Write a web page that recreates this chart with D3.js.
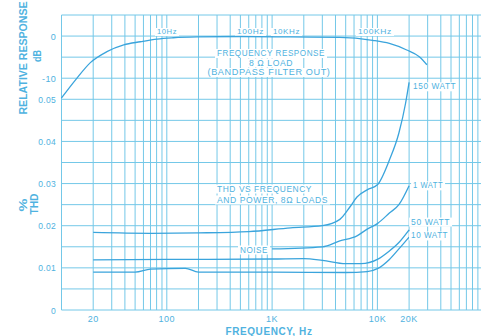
<!DOCTYPE html>
<html><head><meta charset="utf-8">
<script src="https://cdn.jsdelivr.net/npm/d3@7"></script>
<style>body{margin:0;background:#fff;overflow:hidden} svg{display:block}</style>
</head><body>
<script>
// ---- data ----
const freqTicks = [20, 100, 1000, 10000, 20000];
const freqTickLabels = ["20", "100", "1K", "10K", "20K"];
const dbTicks = [0, -10];
const dbTickLabels = ["0", "-10"];
const thdTicks = [0, 0.01, 0.02, 0.03, 0.04, 0.05];
const thdTickLabels = ["0", "0.01", "0.02", "0.03", "0.04", "0.05"];

const respFreq = [10, 13.6, 18.8, 27, 39, 56, 81, 115, 194, 500, 1500, 4400, 9000, 13000, 19000, 25000, 29500];
const respDb   = [-14.7, -10.4, -6.3, -3.7, -2.1, -1.35, -0.7, -0.4, -0.2, -0.1, -0.2, -0.3, -1.0, -1.75, -3.3, -4.9, -6.8];

const w150Freq = [20, 70, 200, 600, 1500, 3000, 4400, 5500, 6400, 8000, 10000, 13000, 16000, 18500, 20000];
const w150Thd  = [0.0184, 0.0182, 0.0183, 0.0186, 0.0195, 0.0200, 0.0215, 0.0245, 0.0268, 0.0285, 0.0297, 0.0356, 0.0420, 0.0490, 0.0540];

const w1Freq = [1000, 3000, 4400, 6400, 8000, 10000, 13000, 16000, 20000];
const w1Thd  = [0.0145, 0.0150, 0.0164, 0.0176, 0.0192, 0.0205, 0.0230, 0.0250, 0.0295];

const w50Freq = [20, 100, 1000, 2000, 3000, 5000, 7000, 10000, 13000, 16000, 20000];
const w50Thd  = [0.0119, 0.0120, 0.0121, 0.0122, 0.0118, 0.0110, 0.0110, 0.0120, 0.0140, 0.0160, 0.0190];

const w10Freq = [20, 50, 70, 150, 200, 1000, 5000, 8000, 10000, 13000, 16000, 20000];
const w10Thd  = [0.0090, 0.0090, 0.0097, 0.0099, 0.0090, 0.0090, 0.0089, 0.0091, 0.0098, 0.0120, 0.0145, 0.0173];

const seriesNames = ["150 WATT", "1 WATT", "50 WATT", "10 WATT"];

// ---- drawing ----
const W = 481, H = 336;
const gridCol = "#74c8e8", curveCol = "#3aa4dc", textCol = "#4fb2e0";
const svg = d3.select("body").append("svg").attr("width", W).attr("height", H);

const x = d3.scaleLog().domain([10, 100000]).range([61.5, 61.5 + 4 * 105.3]);
const yT = d3.scaleLinear().domain([0, 0.07]).range([310, 15]);
const yD = d3.scaleLinear().domain([-65, 5]).range([310, 15]);

// grid
const vLines = [];
[10, 100, 1000, 10000].forEach(d => { for (let m = 1; m <= 9; m++) vLines.push(m * d); });
vLines.push(100000);
svg.append("g").selectAll("line").data(vLines).join("line")
  .attr("x1", d => x(d)).attr("x2", d => x(d)).attr("y1", yT(0.07)).attr("y2", yT(0))
  .attr("stroke", gridCol).attr("stroke-width", 1);
const hLines = d3.range(0, 15).map(i => i * 0.005);
svg.append("g").selectAll("line").data(hLines).join("line")
  .attr("x1", x(10)).attr("x2", W + 5).attr("y1", d => yT(d)).attr("y2", d => yT(d))
  .attr("stroke", gridCol).attr("stroke-width", 1);

// helper for text with optional white background
function label(g, txt, px, py, opts = {}) {
  const gg = g.append("g");
  const t = gg.append("text").attr("x", px).attr("y", py).text(txt)
    .attr("fill", textCol).attr("font-family", "Liberation Sans, Arial, sans-serif")
    .attr("font-size", opts.size || 9).attr("text-anchor", opts.anchor || "start")
    .attr("letter-spacing", opts.ls || 0.6);
  if (opts.len) t.attr("textLength", opts.len).attr("lengthAdjust", "spacingAndGlyphs");
  if (opts.weight) t.attr("font-weight", opts.weight);
  if (opts.bg) {
    const b = t.node().getBBox();
    gg.insert("rect", "text").attr("x", b.x - 2).attr("y", b.y + 1).attr("width", b.width + 4).attr("height", b.height - 1)
      .attr("fill", "#fff");
  }
  return t;
}

// in-plot annotations
const annot = svg.append("g");
label(annot, "10Hz", 157, 34, {size: 8, len: 20, bg: true});
label(annot, "100Hz", 237, 34, {size: 8, len: 27, bg: true});
label(annot, "10KHz", 273, 34, {size: 8, len: 27, bg: true});
label(annot, "100KHz", 358, 34, {size: 8, len: 34, bg: true});
label(annot, "FREQUENCY RESPONSE", 271, 56, {size: 9, len: 108, anchor: "middle", bg: true});
label(annot, "8 Ω  LOAD", 271, 65.5, {size: 9, len: 44, anchor: "middle", bg: true});
label(annot, "(BANDPASS FILTER OUT)", 269, 75, {size: 9, len: 123, anchor: "middle", bg: true});
label(annot, "THD VS FREQUENCY", 217, 191.5, {size: 9, len: 95, bg: true});
label(annot, "AND POWER, 8Ω LOADS", 217, 202.5, {size: 9, len: 111, bg: true});
label(annot, "NOISE", 240, 252.5, {size: 9, len: 28, bg: true});

// curves
const line = d3.line().x(d => x(d[0])).curve(d3.curveMonotoneX);
const curves = svg.append("g").attr("fill", "none").attr("stroke", curveCol).attr("stroke-width", 1.3);
curves.append("path").attr("d", line.y(d => yD(d[1]))(d3.zip(respFreq, respDb)));
const thdSets = [[w150Freq, w150Thd], [w1Freq, w1Thd], [w50Freq, w50Thd], [w10Freq, w10Thd]];
thdSets.forEach(([f, v]) => curves.append("path").attr("d", line.y(d => yT(d[1]))(d3.zip(f, v))));

// right-side series labels (placed just right of 20 kHz, near each curve's end)
const lblShift = [-0.0008, 0.0002, 0.0021, 0.0005];
const lblX = [4, 4, 2, 2];
const lblLen = [43, 30, 39, 37];
thdSets.forEach(([f, v], i) => {
  const last = v[v.length - 1];
  label(svg, seriesNames[i], x(20000) + lblX[i], yT(last + lblShift[i]) + 3.5,
        {size: 9, len: lblLen[i], bg: true});
});

// axes tick labels
const ax = svg.append("g");
dbTicks.forEach((d, i) => label(ax, dbTickLabels[i], 56, yD(d) + 3.5, {size: 9, anchor: "end", ls: 0.3}));
thdTicks.forEach((d, i) => label(ax, thdTickLabels[i], 56, yT(d) + 3.5, {size: 8.5, anchor: "end", ls: 0.3}));
freqTicks.forEach((d, i) => label(ax, freqTickLabels[i], x(d), 322, {size: 9, anchor: "middle", ls: 0.5}));

label(ax, "FREQUENCY, Hz", 269, 335, {size: 10, anchor: "middle", weight: "bold", len: 87});

// vertical axis titles
function vlabel(txt, px, py, size, len) {
  const t = ax.append("text").attr("transform", `translate(${px},${py}) rotate(-90)`)
    .attr("text-anchor", "middle").attr("fill", textCol).attr("font-weight", "bold")
    .attr("font-family", "Liberation Sans, Arial, sans-serif").attr("font-size", size).text(txt);
  if (len) t.attr("textLength", len).attr("lengthAdjust", "spacingAndGlyphs");
}
vlabel("RELATIVE RESPONSE", 27, 58, 10.5, 113);
vlabel("dB", 41, 56, 10, 12);
vlabel("%", 27, 205, 10, 13);
vlabel("THD", 38, 204, 10, 21);
</script>
</body></html>
